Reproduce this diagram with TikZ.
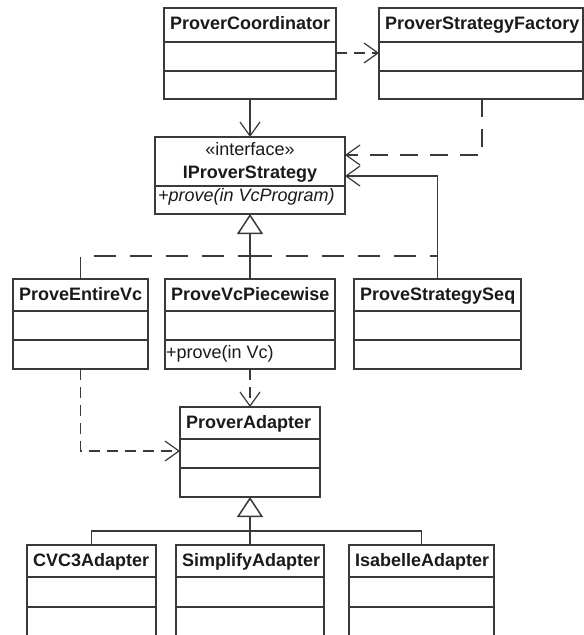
\documentclass[tikz,border=0pt]{standalone}
\usepackage{fontspec}
\setmainfont{Liberation Sans}
\usetikzlibrary{arrows.meta}
\definecolor{linec}{HTML}{3A3A3A}
\definecolor{textc}{HTML}{1A1A1A}
\tikzset{
  classbox/.style={draw=linec, line width=1.6pt, fill=white, inner sep=0pt, outer sep=0pt, rectangle},
  boxline/.style={draw=linec, line width=1.6pt},
  titletext/.style={font=\fontsize{18}{21}\selectfont\bfseries, text=textc, inner sep=0pt},
  plaintext/.style={font=\fontsize{18}{21}\selectfont, text=textc, inner sep=0pt},
  conn/.style={draw=linec, line width=1.5pt},
  openv/.style={-{Straight Barb[length=14pt, width=20pt, line width=1.2pt]}},
  dep/.style={conn, dash pattern=on 11pt off 7pt, openv},
  assoc/.style={conn, openv},
  real/.style={conn, dash pattern=on 22pt off 14pt},
  gen/.style={draw=linec, line width=2.6pt, -{Triangle[length=20pt, width=26pt, fill=white, line width=1.5pt]}},
  genline/.style={conn},
}
\newcommand\umlclass[8]{%
  \node[classbox, anchor=north west, minimum width={#4pt-#2pt}, minimum height={#7pt-#3pt}] (#1) at (#2,#3) {};
  \draw[boxline] (#2,#5) -- (#4,#5);
  \draw[boxline] (#2,#6) -- (#4,#6);
  \node[titletext, anchor=base west] (#1-title) at (#2+6,#3+21) {#8};
}
\begin{document}
\begin{tikzpicture}[x=1pt, y=-1pt]
\useasboundingbox (0,0) rectangle (584,635);
\fill[white] (0,0) rectangle (584,635);
\clip (0,0) rectangle (584,635);

% top row
\umlclass{pc}{164}{8}{336}{42}{71}{99}{ProverCoordinator}
\umlclass{psf}{379}{8}{583}{42}{71}{99}{ProverStrategyFactory}

% interface
\node[classbox, anchor=north west, minimum width=190pt, minimum height=77pt] (ips) at (155,137) {};
\draw[boxline] (155,186) -- (345,186);
\node[plaintext, anchor=base] (ips-st) at (250,155) {«interface»};
\node[titletext, anchor=base] (ips-title) at (250,178) {IProverStrategy};
\node[plaintext, font=\fontsize{18}{21}\selectfont\itshape, anchor=base west] (ips-op) at (158,201) {+prove(in VcProgram)};

% middle row
\umlclass{pev}{13}{279}{148}{311}{340}{369}{ProveEntireVc}
\umlclass{pvp}{165}{279}{335}{311}{340}{369}{ProveVcPiecewise}
\node[plaintext, anchor=base west] (pvp-op) at (166,358) {+prove(in Vc)};
\umlclass{pss}{354}{279}{521}{311}{340}{369}{ProveStrategySeq}

% adapter
\umlclass{pa}{180}{407}{320}{439}{468}{497}{ProverAdapter}

% bottom row
\umlclass{cvc}{27}{545}{156}{577}{607}{645}{CVC3Adapter}
\umlclass{simp}{176}{545}{324}{577}{607}{645}{SimplifyAdapter}
\umlclass{isa}{349}{545}{494}{577}{607}{645}{IsabelleAdapter}

% connectors top
\draw[dep] (pc.east |- 0,53) -- (psf.west |- 0,53);
\draw[assoc] (pc.south) -- (ips.north);
\draw[dep, dash pattern=on 18pt off 12pt] (psf.south -| 482,0) |- (ips.east |- 0,155);
\draw[assoc] (pss.north) |- (ips.east |- 0,176);

% realization
\coordinate (jr) at (250,256);
\draw[real] (pev.north) |- (jr);
\draw[real] (jr) -| (pss.north);
\draw[real] (pvp.north) -- (jr);
\draw[gen] (jr) -- (ips.south);

% dependencies to adapter
\draw[dep] (pev.south) |- (pa.west |- 0,451);
\draw[dep] (pvp.south) -- (pa.north);

% generalization bottom
\coordinate (jg) at (250,531);
\draw[genline] (cvc.north) |- (jg) -| (isa.north);
\draw[genline] (simp.north) -- (jg);
\draw[gen] (jg) -- (pa.south);
\end{tikzpicture}
\end{document}
